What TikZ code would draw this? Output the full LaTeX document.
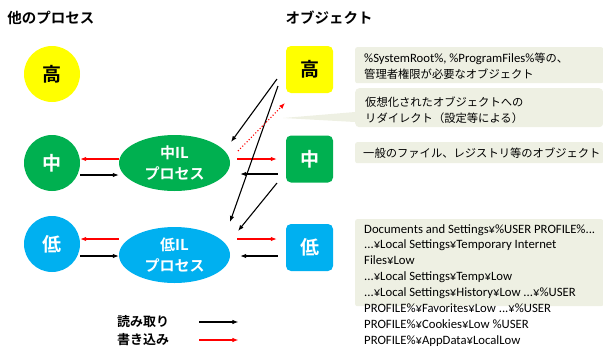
\documentclass[tikz,border=0pt]{standalone}
\usepackage{fontspec}
\setmainfont{Carlito}
\newfontfamily\cjk{Noto Sans CJK JP}[BoldFont={Noto Sans CJK JP Bold}]
\usetikzlibrary{shapes.geometric,arrows.meta,calc}
\definecolor{yel}{HTML}{FFFF00}
\definecolor{grn}{HTML}{00B050}
\definecolor{cyn}{HTML}{00B0F0}
\definecolor{boxbg}{HTML}{EEF0E3}
\newcommand{\jp}[1]{{\cjk\fontsize{11.3}{16}\selectfont #1}}
\tikzset{
  circ/.style={circle, minimum size=56pt, inner sep=0pt, font=\cjk\bfseries\fontsize{19}{19}\selectfont},
  ilp/.style={ellipse, minimum width=111pt, minimum height=56pt, inner sep=0pt, text=white, align=center, font=\cjk\bfseries\fontsize{15}{21}\selectfont},
  obj/.style={rounded corners=5pt, minimum size=47pt, inner sep=0pt, font=\cjk\bfseries\fontsize{19}{19}\selectfont},
  ttl/.style={font=\cjk\bfseries\fontsize{14.5}{16}\selectfont, inner sep=0pt},
  bx/.style={fill=boxbg, rounded corners=2pt, anchor=north west, minimum width=248pt, inner sep=0pt},
  btxt/.style={font=\fontsize{12.7}{16}\selectfont, align=left, anchor=west, inner sep=0pt},
  rd/.style={-{Latex[length=6pt,width=4.5pt]}, line width=1.1pt},
  wr/.style={rd, red},
  lg/.style={font=\cjk\bfseries\fontsize{13}{15}\selectfont, inner sep=0pt, anchor=west}
}
\begin{document}
\begin{tikzpicture}[x=1pt, y=-1pt]
\useasboundingbox (0,0) rectangle (603,349);
% titles
\node[ttl] (t1) at (51,18) {他のプロセス};
\node[ttl] (t2) at (329,18) {オブジェクト};
% other processes
\node[circ, fill=yel] (cH) at (52,74) {高};
\node[circ, fill=grn, text=white] (cM) at (52,163) {中};
\node[circ, fill=cyn, text=white] (cL) at (52,244) {低};
% IL processes
\node[ilp, fill=grn] (ilM) at (174.5,163) {中IL\\プロセス};
\node[ilp, fill=cyn] (ilL) at (174.5,255) {低IL\\プロセス};
% objects
\node[obj, fill=yel] (oH) at (309.5,69.5) {高};
\node[obj, fill=grn, text=white] (oM) at (309.5,159) {中};
\node[obj, fill=cyn, text=white] (oL) at (309.5,247.5) {低};
% description boxes
\node[bx, minimum height=36pt] (b1) at (355,47) {};
\node[btxt] (b1t) at ([xshift=9pt,yshift=-1pt]b1.west) {\%SystemRoot\%, \%ProgramFiles\%\jp{等の、}\\\jp{管理者権限が必要なオブジェクト}};
\node[bx, minimum height=39pt, rounded corners=4pt] (b2) at (355,88) {};
\fill[boxbg] (283,118) -- (b2.west |- 0,112) -- (b2.west |- 0,122) -- cycle;
\node[btxt] (b2t) at ([xshift=10pt,yshift=-2pt]b2.west) {\jp{仮想化されたオブジェクトへの}\\\jp{リダイレクト（設定等による）}};
\node[bx, minimum height=21pt] (b3) at (355,142) {};
\node[btxt] (b3t) at ([xshift=8pt]b3.west) {\jp{一般のファイル、レジストリ等のオブジェクト}};
\node[bx, minimum height=87pt] (b4) at (355,219) {};
\node[btxt, anchor=north west, font=\fontsize{12.7}{15.9}\selectfont] (b4t) at (364,224) {Documents and Settings¥\%USER PROFILE\%...\\...¥Local Settings¥Temporary Internet\\Files¥Low\\...¥Local Settings¥Temp¥Low\\...¥Local Settings¥History¥Low ...¥\%USER\\PROFILE\%¥Favorites¥Low ...¥\%USER\\PROFILE\%¥Cookies¥Low \%USER\\PROFILE\%¥AppData¥LocalLow};
% horizontal arrows - middle
\draw[wr] (ilM.west |- 0,159) -- (cM.east |- 0,159);
\draw[rd] (cM.east |- 0,175) -- (ilM.west |- 0,175);
\draw[wr, shorten <=7pt, shorten >=9pt] (ilM.east |- 0,159) -- (oM.west |- 0,159);
\draw[rd, shorten <=8pt, shorten >=10pt] (oM.west |- 0,174) -- (ilM.east |- 0,174);
% horizontal arrows - low
\draw[wr] (ilL.west |- 0,239) -- (cL.east |- 0,239);
\draw[rd] (cL.east |- 0,256) -- (ilL.west |- 0,256);
\draw[wr, shorten <=7pt, shorten >=9pt] (ilL.east |- 0,239) -- (oL.west |- 0,239);
\draw[rd, shorten <=8pt, shorten >=10pt] (oL.west |- 0,256) -- (ilL.east |- 0,256);
% diagonal arrows
\draw[rd] ($(oH.center)+(-32.5,9.5)$) -- ($(ilM.center)+(56.5,-21)$);
\draw[rd] ($(oH.center)+(-31.5,16.5)$) -- ($(ilL.center)+(55.5,-33)$);
\draw[wr, dotted] ($(ilM.center)+(63.5,-12)$) -- ($(oH.center)+(-24.5,33.5)$);
\draw[rd] ($(oM.center)+(-32.5,24)$) -- ($(ilL.center)+(63.5,-24)$);
% legend
\node[lg] (lr) at (117,322) {読み取り};
\node[lg] (lw) at (117,340) {書き込み};
\draw[rd] (lr.east) ++(30,0) -- ++(39,0);
\draw[wr] (lw.east) ++(30,0) -- ++(39,0);
\end{tikzpicture}
\end{document}
